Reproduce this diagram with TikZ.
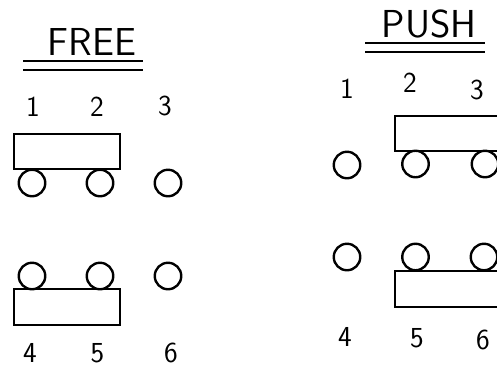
\documentclass[tikz,border=0pt]{standalone}
\usepackage{fontspec}
\usetikzlibrary{positioning}
\begin{document}
\begin{tikzpicture}[x=1pt, y=-1pt,
  title/.style={font=\sffamily\fontsize{39}{39}\selectfont\addfontfeatures{LetterSpace=6}, inner sep=0pt},
  num/.style={font=\sffamily\fontsize{29}{29}\selectfont, inner sep=0pt},
  car/.style={draw, line width=2.5pt, inner sep=0pt, minimum height=35pt},
  wheel/.style={draw, circle, line width=2.4pt, inner sep=0pt, minimum size=26.5pt},
  uline/.style={line width=2.5pt},
]
\clip (0,0) rectangle (497,368);
%% FREE
\node[title] (free) at (92,41.5) {FREE};
\draw[uline] (23,61) -- (143,61);
\draw[uline] (23,70) -- (143,70);
\node[num] (f1) at (33,107) {1};
\node[num] (f2) at (97,107) {2};
\node[num] (f3) at (165,106) {3};
\node[car, minimum width=106pt] (fcarA) at (67,151.5) {};
\node[wheel] (fw1) at (32,183) {};
\node[wheel] (fw2) at (100,183) {};
\node[wheel] (fw3) at (168,183) {};
\node[wheel] (fw4) at (32,276) {};
\node[wheel] (fw5) at (100,276) {};
\node[wheel] (fw6) at (168,276) {};
\node[car, minimum width=106pt, minimum height=36pt] (fcarB) at (67,307) {};
\node[num] (f4) at (30,353) {4};
\node[num] (f5) at (97.5,353.5) {5};
\node[num] (f6) at (171,352.5) {6};
%% PUSH
\node[title] (push) at (429,24) {PUSH};
\draw[uline] (365,43) -- (485,43);
\draw[uline] (365,52) -- (485,52);
\node[num] (p1) at (347,89) {1};
\node[num] (p2) at (410,83) {2};
\node[num] (p3) at (477,90) {3};
\node[car, minimum width=130pt] (pcarA) at (460,133.5) {};
\node[wheel] (pw1) at (347,165) {};
\node[wheel] (pw2) at (415.5,164) {};
\node[wheel] (pw3) at (485,164) {};
\node[wheel] (pw4) at (347,257) {};
\node[wheel] (pw5) at (415.5,257) {};
\node[wheel] (pw6) at (484,257) {};
\node[car, minimum width=130pt, minimum height=36pt] (pcarB) at (460,289) {};
\node[num] (p4) at (345,337) {4};
\node[num] (p5) at (417,338) {5};
\node[num] (p6) at (483,340) {6};
\end{tikzpicture}
\end{document}
